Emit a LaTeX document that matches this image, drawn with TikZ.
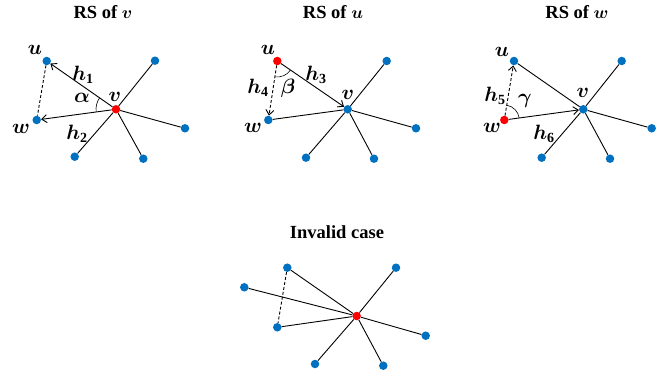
\documentclass[tikz,border=0pt]{standalone}
\usepackage{fontspec}
\setmainfont{Liberation Serif}
\usepackage{bm}
\usetikzlibrary{arrows.meta,angles}
\definecolor{dotblue}{RGB}{0,112,192}
\definecolor{dotred}{RGB}{255,0,0}
\begin{document}
\begin{tikzpicture}[x=1pt,y=-1pt,
  bdot/.style={circle,fill=dotblue,inner sep=0pt,minimum size=8.5pt},
  rdot/.style={circle,fill=dotred,inner sep=0pt,minimum size=8.5pt},
  edge/.style={line width=0.9pt},
  arr/.style={line width=0.9pt,-{Straight Barb[length=5pt,width=8pt]}},
  dsh/.style={line width=0.9pt,dash pattern=on 3pt off 2pt},
  title/.style={font=\fontsize{18.5}{20}\selectfont\bfseries,inner sep=0pt},
  lab/.style={font=\fontsize{20}{22}\selectfont,inner sep=0pt},
  ang/.style={draw,line width=0.6pt}]
\useasboundingbox (0,0) rectangle (667,377);

% ---------- Panel 1: RS of v
\node[title] (t1) at (103,12) {RS of $\bm{v}$};
\node[bdot] (a-u) at (46.7,61) {};
\node[bdot] (a-w) at (36.7,120) {};
\node[rdot] (a-v) at (116,109.3) {};
\node[bdot] (a-tr) at (155,60.7) {};
\node[bdot] (a-r) at (185,128.3) {};
\node[bdot] (a-bl) at (74.7,156.7) {};
\node[bdot] (a-br) at (143.3,158.7) {};
\draw[edge] (a-v) -- (a-tr);
\draw[edge] (a-v) -- (a-r);
\draw[edge] (a-v) -- (a-bl);
\draw[edge] (a-v) -- (a-br);
\draw[arr] (a-v) -- (a-u);
\draw[arr] (a-v) -- (a-w);
\draw[dsh] (a-u) -- (a-w);
\pic[ang,angle radius=20pt] {angle=a-u--a-v--a-w};
\node[lab] (a-lu) at (35,50) {$\bm{u}$};
\node[lab] (a-lw) at (21,129) {$\bm{w}$};
\node[lab] (a-lv) at (115,97) {$\bm{v}$};
\node[lab] (a-h1) at (83,75) {$\bm{h}_{\mathbf{1}}$};
\node[lab] (a-h2) at (77,134) {$\bm{h}_{\mathbf{2}}$};
\node[lab] (a-al) at (82,98) {$\bm{\alpha}$};

% ---------- Panel 2: RS of u
\node[title] (t2) at (333,12) {RS of $\bm{u}$};
\node[rdot] (b-u) at (277.3,61) {};
\node[bdot] (b-w) at (268.3,120) {};
\node[bdot] (b-v) at (347.7,109.3) {};
\node[bdot] (b-tr) at (386.7,61) {};
\node[bdot] (b-r) at (416,128.3) {};
\node[bdot] (b-bl) at (306,157.7) {};
\node[bdot] (b-br) at (374,158.7) {};
\draw[edge] (b-v) -- (b-tr);
\draw[edge] (b-v) -- (b-r);
\draw[edge] (b-v) -- (b-bl);
\draw[edge] (b-v) -- (b-br);
\draw[edge] (b-w) -- (b-v);
\draw[arr] (b-u) -- (b-v);
\draw[dsh,-{Straight Barb[length=5pt,width=8pt]}] (b-u) -- (b-w);
\pic[ang,angle radius=16pt] {angle=b-w--b-u--b-v};
\node[lab] (b-lu) at (268,50) {$\bm{u}$};
\node[lab] (b-lw) at (253,128) {$\bm{w}$};
\node[lab] (b-lv) at (348,95) {$\bm{v}$};
\node[lab] (b-h3) at (316,75) {$\bm{h}_{\mathbf{3}}$};
\node[lab] (b-h4) at (258,88) {$\bm{h}_{\mathbf{4}}$};
\node[lab] (b-be) at (288,88) {$\bm{\beta}$};

% ---------- Panel 3: RS of w
\node[title] (t3) at (577,12) {RS of $\bm{w}$};
\node[bdot] (c-u) at (514,61) {};
\node[rdot] (c-w) at (504.3,120) {};
\node[bdot] (c-v) at (583.3,109.3) {};
\node[bdot] (c-tr) at (621.7,61) {};
\node[bdot] (c-r) at (651.7,128.3) {};
\node[bdot] (c-bl) at (541.7,157.7) {};
\node[bdot] (c-br) at (610,158.7) {};
\draw[edge] (c-v) -- (c-tr);
\draw[edge] (c-v) -- (c-r);
\draw[edge] (c-v) -- (c-bl);
\draw[edge] (c-v) -- (c-br);
\draw[edge] (c-u) -- (c-v);
\draw[arr] (c-w) -- (c-v);
\draw[dsh,-{Straight Barb[length=5pt,width=8pt]}] (c-w) -- (c-u);
\pic[ang,angle radius=15pt] {angle=c-v--c-w--c-u};
\node[lab] (c-lu) at (502,52) {$\bm{u}$};
\node[lab] (c-lw) at (492,128) {$\bm{w}$};
\node[lab] (c-lv) at (583,93) {$\bm{v}$};
\node[lab] (c-h5) at (495,96) {$\bm{h}_{\mathbf{5}}$};
\node[lab] (c-h6) at (544,134) {$\bm{h}_{\mathbf{6}}$};
\node[lab] (c-ga) at (525,101) {$\bm{\gamma}$};

% ---------- Panel 4: Invalid case
\node[title] (t4) at (337,232) {Invalid case};
\node[bdot] (d-u) at (287.3,267.7) {};
\node[bdot] (d-l) at (244.3,287.3) {};
\node[bdot] (d-w) at (277.3,327.3) {};
\node[rdot] (d-v) at (356.7,316) {};
\node[bdot] (d-tr) at (396,267.7) {};
\node[bdot] (d-r) at (425.7,335.7) {};
\node[bdot] (d-bl) at (315,364) {};
\node[bdot] (d-br) at (383.3,365.7) {};
\draw[edge] (d-v) -- (d-u);
\draw[edge] (d-v) -- (d-l);
\draw[edge] (d-v) -- (d-w);
\draw[edge] (d-v) -- (d-tr);
\draw[edge] (d-v) -- (d-r);
\draw[edge] (d-v) -- (d-bl);
\draw[edge] (d-v) -- (d-br);
\draw[dsh] (d-u) -- (d-w);
\end{tikzpicture}
\end{document}
